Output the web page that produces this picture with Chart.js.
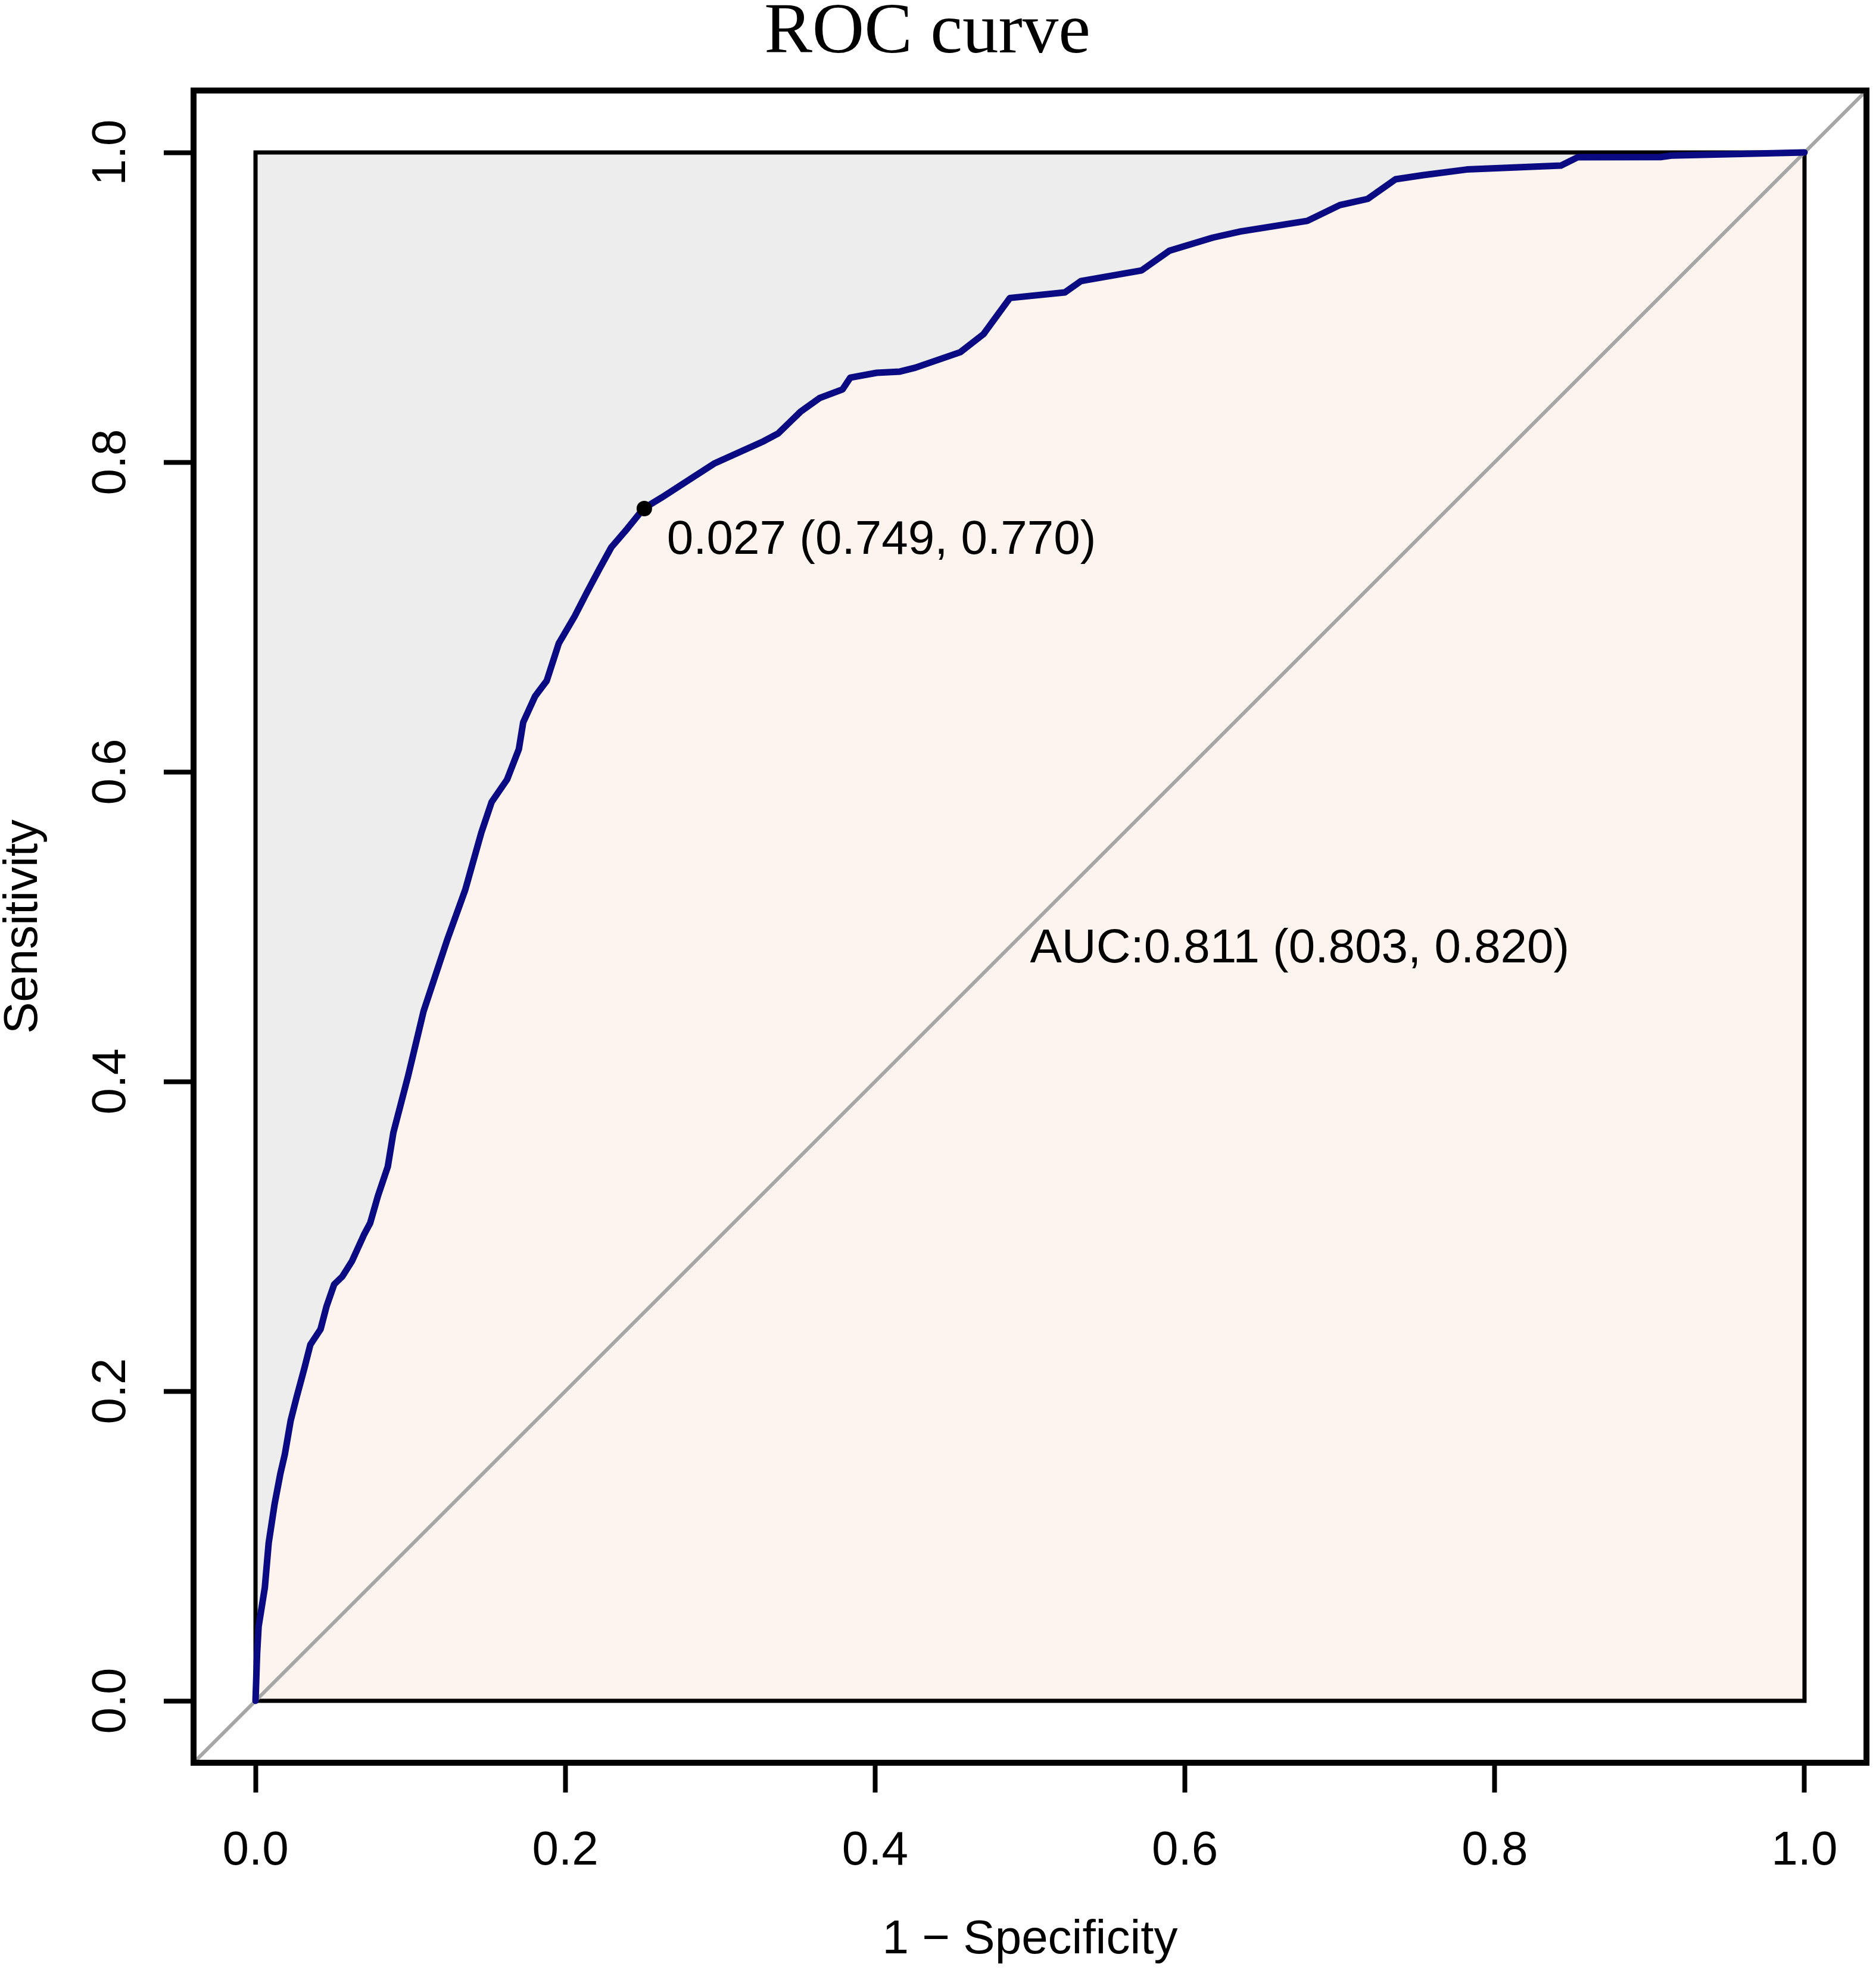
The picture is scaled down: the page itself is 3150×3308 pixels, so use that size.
<!DOCTYPE html>
<html>
<head>
<meta charset="utf-8">
<script src="https://cdn.jsdelivr.net/npm/chart.js@4.4.1/dist/chart.umd.min.js"></script>
<style>
  html, body { margin: 0; padding: 0; background: #fff; }
  canvas { display: block; }
</style>
</head>
<body>
<canvas id="roc" width="3150" height="3308" style="width:3150px;height:3308px"></canvas>
<script>
// ROC curve: 1 - specificity / sensitivity
const fpr = [0, 0.001, 0.002, 0.006, 0.0085, 0.0123, 0.016, 0.0189, 0.0227, 0.0265,
  0.0316, 0.0354, 0.042, 0.0458, 0.0508, 0.056, 0.0623, 0.070, 0.074, 0.079,
  0.0854, 0.089, 0.0985, 0.1085, 0.1239, 0.1354, 0.1458, 0.1524, 0.1624, 0.170,
  0.1728, 0.1805, 0.188, 0.1958, 0.206, 0.214, 0.222, 0.2297, 0.240, 0.2505,
  0.262, 0.2786, 0.296, 0.328, 0.3374, 0.352, 0.3644, 0.379, 0.384, 0.401,
  0.416, 0.426, 0.455, 0.470, 0.4775, 0.487, 0.5225, 0.533, 0.572, 0.590,
  0.618, 0.636, 0.679, 0.700, 0.718, 0.736, 0.754, 0.782, 0.8427, 0.8535,
  0.907, 0.914, 0.967, 1.0];
const tpr = [0, 0.030, 0.048, 0.073, 0.102, 0.127, 0.1465, 0.159, 0.181, 0.196,
  0.215, 0.230, 0.240, 0.2546, 0.269, 0.274, 0.284, 0.301, 0.3085, 0.326,
  0.345, 0.367, 0.4035, 0.4454, 0.4919, 0.5238, 0.5608, 0.5804, 0.595, 0.6146,
  0.6319, 0.6488, 0.6588, 0.683, 0.7004, 0.716, 0.731, 0.745, 0.757, 0.770,
  0.777, 0.7877, 0.799, 0.8135, 0.8185, 0.8327, 0.8415, 0.847, 0.8546, 0.8577,
  0.8585, 0.861, 0.871, 0.8827, 0.893, 0.906, 0.9096, 0.917, 0.9238, 0.9365,
  0.945, 0.949, 0.9558, 0.966, 0.970, 0.9827, 0.9854, 0.989, 0.9915, 0.9969,
  0.997, 0.998, 0.9992, 1.0];

const tickValues = [0, 0.2, 0.4, 0.6, 0.8, 1.0];
const axisMin = -0.04;
const axisMax = 1.04;

// unit square (max AUC polygon) and chance line
const squareX = [0, 0, 1, 1, 0];
const squareY = [0, 1, 1, 0, 0];
const diagX = [axisMin, axisMax];

const bestPoint = { x: 0.251, y: 0.770 };
const bestLabel = "0.027 (0.749, 0.770)";
const aucPos = { x: 0.5, y: 0.5 };
const aucLabel = "AUC:0.811 (0.803, 0.820)";

const titleText = "ROC curve";
const xTitle = "1 \u2212 Specificity";
const yTitle = "Sensitivity";

const SANS = '"Liberation Sans", Arial, sans-serif';
const SERIF = '"Liberation Serif", "Times New Roman", serif';

const toPoints = (xs, ys) => xs.map((x, i) => ({ x, y: ys[i] }));
const rocPoints = toPoints(fpr, tpr);

// frame, titles, rotated y labels and the two annotations
const decorations = {
  id: "decorations",
  afterDatasetsDraw(chart) {
    const { ctx, chartArea: area, scales } = chart;
    const xs = scales.x, ys = scales.y;
    ctx.save();
    ctx.fillStyle = "#000";

    ctx.font = "80px " + SANS;
    ctx.textAlign = "left";
    ctx.textBaseline = "alphabetic";
    ctx.fillText(bestLabel, xs.getPixelForValue(bestPoint.x) + 38, ys.getPixelForValue(bestPoint.y) + 76);
    ctx.fillText(aucLabel, xs.getPixelForValue(aucPos.x), ys.getPixelForValue(aucPos.y) + 60);

    ctx.strokeStyle = "#000";
    ctx.lineWidth = 10;
    ctx.lineJoin = "miter";
    ctx.strokeRect(area.left, area.top, area.right - area.left, area.bottom - area.top);
    ctx.restore();
  },
  afterDraw(chart) {
    const { ctx, chartArea: area, scales } = chart;
    const ys = scales.y;
    ctx.save();
    ctx.fillStyle = "#000";

    ctx.font = "121px " + SERIF;
    ctx.textAlign = "center";
    ctx.textBaseline = "alphabetic";
    ctx.fillText(titleText, 1557, 88);

    ctx.font = "80px " + SANS;
    ctx.fillText(xTitle, (area.left + area.right) / 2, 3280);

    tickValues.forEach((v) => {
      ctx.save();
      ctx.translate(area.left - 115, ys.getPixelForValue(v));
      ctx.rotate(-Math.PI / 2);
      ctx.fillText(v.toFixed(1), 0, 0);
      ctx.restore();
    });

    ctx.save();
    ctx.translate(62, (area.top + area.bottom) / 2);
    ctx.rotate(-Math.PI / 2);
    ctx.fillText(yTitle, 0, 0);
    ctx.restore();

    ctx.restore();
  },
};

const fixTicks = (scale) => {
  scale.ticks = tickValues.map((v) => ({ value: v }));
};

new Chart(document.getElementById("roc"), {
  type: "line",
  data: {
    datasets: [
      {
        label: "threshold",
        data: [bestPoint],
        showLine: false,
        pointRadius: 13,
        pointBackgroundColor: "#000",
        pointBorderColor: "#000",
        pointBorderWidth: 0,
        order: 0,
      },
      {
        label: "roc",
        data: rocPoints,
        borderColor: "#0a0a82",
        borderWidth: 11,
        borderJoinStyle: "round",
        borderCapStyle: "round",
        pointRadius: 0,
        fill: false,
        order: 1,
      },
      {
        label: "chance",
        data: toPoints(diagX, diagX),
        borderColor: "#a6a6a6",
        borderWidth: 6,
        pointRadius: 0,
        fill: false,
        order: 2,
      },
      {
        label: "square",
        data: toPoints(squareX, squareY),
        borderColor: "#000",
        borderWidth: 7,
        borderCapStyle: "square",
        pointRadius: 0,
        fill: false,
        order: 3,
      },
      {
        label: "auc area",
        data: rocPoints,
        borderColor: "transparent",
        borderWidth: 1,
        backgroundColor: "#fef4ef",
        pointRadius: 0,
        fill: { value: 0 },
        order: 4,
      },
      {
        label: "max auc area",
        data: toPoints([0, 1], [1, 1]),
        borderColor: "transparent",
        borderWidth: 1,
        backgroundColor: "#ededed",
        pointRadius: 0,
        fill: { value: 0 },
        order: 5,
      },
    ],
  },
  options: {
    responsive: false,
    devicePixelRatio: 1,
    animation: false,
    events: [],
    layout: { padding: { left: 0, right: 16, top: 152, bottom: 0 } },
    plugins: {
      legend: { display: false },
      tooltip: { enabled: false },
      title: { display: false },
    },
    scales: {
      x: {
        type: "linear",
        min: axisMin,
        max: axisMax,
        afterBuildTicks: fixTicks,
        afterFit: (scale) => { scale.height = 348; },
        border: { display: false },
        grid: {
          drawOnChartArea: false,
          drawTicks: true,
          tickLength: 50,
          tickWidth: 8,
          tickColor: "#000",
        },
        ticks: {
          color: "#000",
          font: { family: SANS, size: 80 },
          padding: 51,
          maxRotation: 0,
          autoSkip: false,
          callback: (v) => Number(v).toFixed(1),
        },
      },
      y: {
        type: "linear",
        min: axisMin,
        max: axisMax,
        afterBuildTicks: fixTicks,
        afterFit: (scale) => { scale.width = 325; },
        border: { display: false },
        grid: {
          drawOnChartArea: false,
          drawTicks: true,
          tickLength: 50,
          tickWidth: 8,
          tickColor: "#000",
        },
        ticks: { display: false },
      },
    },
  },
  plugins: [decorations],
});
</script>
</body>
</html>
